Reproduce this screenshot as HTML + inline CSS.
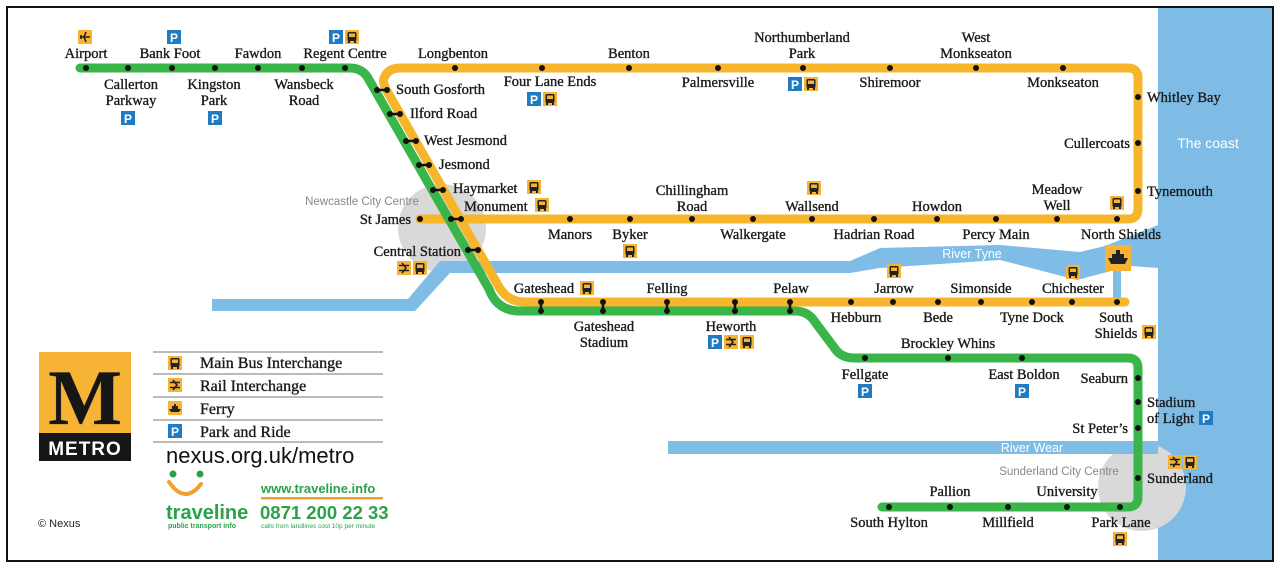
<!DOCTYPE html>
<html><head><meta charset="utf-8"><style>
html,body{margin:0;padding:0;background:#fff;}
svg{display:block;}
text{font-family:"Liberation Serif",serif;font-size:14.5px;fill:#1a1a1a;stroke:#1a1a1a;stroke-width:0.35px;}
.s{font-family:"Liberation Sans",sans-serif;}
.w{stroke:none;}
</style></head><body>
<svg width="1280" height="568" viewBox="0 0 1280 568" xmlns="http://www.w3.org/2000/svg">
<defs>
<g id="bus"><rect x="-7" y="-7" width="14" height="14" fill="#f6b334"/><rect x="-4.5" y="-5" width="9" height="9" rx="1.5" fill="#222"/><rect x="-3" y="-3.5" width="6" height="3.5" fill="#f6b334"/><rect x="-4" y="4" width="2" height="2" fill="#222"/><rect x="2" y="4" width="2" height="2" fill="#222"/></g>
<g id="rail"><rect x="-7" y="-7" width="14" height="14" fill="#f6b334"/><path d="M-5,-2.5H5M-5,2.5H5" stroke="#222" stroke-width="1.6"/><path d="M-2,-5L2,0L-2,5" stroke="#222" stroke-width="1.6" fill="none"/></g>
<g id="ferry"><rect x="-7" y="-7" width="14" height="14" fill="#f6b334"/><path d="M-6,1H6L4,4H-4Z M-3,1V-2H3V1Z M-1,-2V-4H1V-2Z" fill="#222"/></g>
<g id="plane"><rect x="-7" y="-7" width="14" height="14" fill="#f6b334"/><path d="M-5,0H5M1,-5L-1,0L1,5M-4,-2L-4,2" stroke="#222" stroke-width="1.6" fill="none"/></g>
</defs>
<rect x="7" y="7" width="1266" height="554" fill="#fff" stroke="#111" stroke-width="2"/>
<rect x="1158" y="8" width="114" height="552" fill="#7fbce5"/>
<text x="1208" y="148" text-anchor="middle" class="s w" style="fill:#fff;font-size:14px">The coast</text>
<circle cx="442" cy="228" r="44" fill="#d9d9d9"/>
<circle cx="1142" cy="487" r="44" fill="#d9d9d9"/>
<polygon points="212,299 408,299 440,261 850,261 880,248 1000,245 1080,252 1105,246 1158,225 1158,268 1130,266 1077,280 1000,260 880,268 850,273 450,273 415,311 212,311" fill="#80bde6"/>
<rect x="668" y="441" width="490" height="13" fill="#80bde6"/>
<rect x="1113" y="262" width="8" height="40" fill="#80bde6"/>
<text x="972" y="258" text-anchor="middle" class="s w" style="fill:#fff;font-size:12.5px">River Tyne</text>
<text x="1032" y="452" text-anchor="middle" class="s w" style="fill:#fff;font-size:12.5px">River Wear</text>
<text x="362" y="205" text-anchor="middle" class="s w" style="fill:#888;font-size:11.5px">Newcastle City Centre</text>
<text x="1059" y="475" text-anchor="middle" class="s w" style="fill:#888;font-size:11.5px">Sunderland City Centre</text>
<path d="M1125,302 L525,302 Q508,302 499,287 L387,91 Q382,82 384,78 Q388,68 400,68 L1128,68 Q1138,68 1138,78 L1138,209 Q1138,219 1128,219 L420,219" fill="none" stroke="#f7b52c" stroke-width="9" stroke-linecap="round" stroke-linejoin="round"/>
<path d="M80,68 L350,68 Q362,68 368,78 L489,289 Q497,311 520,311 L795,311 Q808,311 815,322 L836,350 Q842,358 855,358 L1128,358 Q1138,358 1138,368 L1138,497 Q1138,507 1128,507 L882,507" fill="none" stroke="#3ab54a" stroke-width="9" stroke-linecap="round" stroke-linejoin="round"/>
<g fill="#111">
<circle cx="86" cy="68" r="3"/><circle cx="128" cy="68" r="3"/><circle cx="172" cy="68" r="3"/><circle cx="215" cy="68" r="3"/><circle cx="258" cy="68" r="3"/><circle cx="302" cy="68" r="3"/><circle cx="345" cy="68" r="3"/>
<circle cx="455" cy="68" r="3"/><circle cx="542" cy="68" r="3"/><circle cx="629" cy="68" r="3"/><circle cx="718" cy="68" r="3"/><circle cx="803" cy="68" r="3"/><circle cx="890" cy="68" r="3"/><circle cx="976" cy="68" r="3"/><circle cx="1063" cy="68" r="3"/>
<circle cx="1138" cy="97" r="3"/><circle cx="1138" cy="143" r="3"/><circle cx="1138" cy="191" r="3"/>
<circle cx="1117" cy="219" r="3"/><circle cx="1057" cy="219" r="3"/><circle cx="996" cy="219" r="3"/><circle cx="937" cy="219" r="3"/><circle cx="874" cy="219" r="3"/><circle cx="812" cy="219" r="3"/><circle cx="753" cy="219" r="3"/><circle cx="692" cy="219" r="3"/><circle cx="630" cy="219" r="3"/><circle cx="570" cy="219" r="3"/><circle cx="420" cy="219" r="3"/>
<circle cx="851" cy="302" r="3"/><circle cx="893" cy="302" r="3"/><circle cx="938" cy="302" r="3"/><circle cx="981" cy="302" r="3"/><circle cx="1032" cy="302" r="3"/><circle cx="1072" cy="302" r="3"/><circle cx="1117" cy="302" r="3"/>
<circle cx="865" cy="358" r="3"/><circle cx="948" cy="358" r="3"/><circle cx="1022" cy="358" r="3"/>
<circle cx="1138" cy="378" r="3"/><circle cx="1138" cy="402" r="3"/><circle cx="1138" cy="428" r="3"/><circle cx="1138" cy="478" r="3"/>
<circle cx="1120" cy="507" r="3"/><circle cx="1067" cy="507" r="3"/><circle cx="1008" cy="507" r="3"/><circle cx="950" cy="507" r="3"/><circle cx="889" cy="507" r="3"/>
</g>
<g stroke="#111" stroke-width="2.5" fill="#111">
<line x1="377" y1="90" x2="387" y2="90"/><line x1="390" y1="114" x2="400" y2="114"/><line x1="406" y1="141" x2="416" y2="141"/><line x1="419" y1="165" x2="429" y2="165"/><line x1="433" y1="190" x2="443" y2="190"/><line x1="451" y1="219" x2="461" y2="219"/><line x1="468" y1="250" x2="478" y2="250"/>
<line x1="541" y1="302" x2="541" y2="311"/><line x1="603" y1="302" x2="603" y2="311"/><line x1="667" y1="302" x2="667" y2="311"/><line x1="735" y1="302" x2="735" y2="311"/><line x1="790" y1="302" x2="790" y2="311"/>
</g>
<g fill="#111">
<circle cx="377" cy="90" r="3"/><circle cx="387" cy="90" r="3"/><circle cx="390" cy="114" r="3"/><circle cx="400" cy="114" r="3"/><circle cx="406" cy="141" r="3"/><circle cx="416" cy="141" r="3"/><circle cx="419" cy="165" r="3"/><circle cx="429" cy="165" r="3"/><circle cx="433" cy="190" r="3"/><circle cx="443" cy="190" r="3"/><circle cx="451" cy="219" r="3"/><circle cx="461" cy="219" r="3"/><circle cx="468" cy="250" r="3"/><circle cx="478" cy="250" r="3"/>
<circle cx="541" cy="302" r="3"/><circle cx="541" cy="311" r="3"/><circle cx="603" cy="302" r="3"/><circle cx="603" cy="311" r="3"/><circle cx="667" cy="302" r="3"/><circle cx="667" cy="311" r="3"/><circle cx="735" cy="302" r="3"/><circle cx="735" cy="311" r="3"/><circle cx="790" cy="302" r="3"/><circle cx="790" cy="311" r="3"/>
</g>
<g text-anchor="middle">
<text x="86" y="58">Airport</text>
<text x="131" y="89">Callerton</text><text x="131" y="105">Parkway</text>
<text x="170" y="58">Bank Foot</text>
<text x="214" y="89">Kingston</text><text x="214" y="105">Park</text>
<text x="258" y="58">Fawdon</text>
<text x="304" y="89">Wansbeck</text><text x="304" y="105">Road</text>
<text x="345" y="58">Regent Centre</text>
<text x="453" y="58">Longbenton</text>
<text x="550" y="86">Four Lane Ends</text>
<text x="629" y="58">Benton</text>
<text x="718" y="87">Palmersville</text>
<text x="802" y="42">Northumberland</text><text x="802" y="58">Park</text>
<text x="890" y="87">Shiremoor</text>
<text x="976" y="42">West</text><text x="976" y="58">Monkseaton</text>
<text x="1063" y="87">Monkseaton</text>
<text x="1057" y="194">Meadow</text><text x="1057" y="210">Well</text>
<text x="996" y="239">Percy Main</text>
<text x="937" y="211">Howdon</text>
<text x="874" y="239">Hadrian Road</text>
<text x="812" y="211">Wallsend</text>
<text x="753" y="239">Walkergate</text>
<text x="692" y="195">Chillingham</text><text x="692" y="211">Road</text>
<text x="630" y="239">Byker</text>
<text x="570" y="239">Manors</text>
<text x="1121" y="239">North Shields</text>
<text x="604" y="331">Gateshead</text><text x="604" y="347">Stadium</text>
<text x="544" y="293">Gateshead</text>
<text x="667" y="293">Felling</text>
<text x="731" y="331">Heworth</text>
<text x="791" y="293">Pelaw</text>
<text x="856" y="322">Hebburn</text>
<text x="894" y="293">Jarrow</text>
<text x="938" y="322">Bede</text>
<text x="981" y="293">Simonside</text>
<text x="1032" y="322">Tyne Dock</text>
<text x="1073" y="293">Chichester</text>
<text x="1116" y="322">South</text><text x="1116" y="338">Shields</text>
<text x="865" y="379">Fellgate</text>
<text x="948" y="348">Brockley Whins</text>
<text x="1024" y="379">East Boldon</text>
<text x="1121" y="527">Park Lane</text>
<text x="1067" y="496">University</text>
<text x="1008" y="527">Millfield</text>
<text x="950" y="496">Pallion</text>
<text x="889" y="527">South Hylton</text>
</g>
<g text-anchor="start">
<text x="396" y="94">South Gosforth</text>
<text x="410" y="118">Ilford Road</text>
<text x="424" y="145">West Jesmond</text>
<text x="439" y="169">Jesmond</text>
<text x="453" y="193">Haymarket</text>
<text x="464" y="211">Monument</text>
<text x="1147" y="102">Whitley Bay</text>
<text x="1147" y="196">Tynemouth</text>
<text x="1147" y="407">Stadium</text><text x="1147" y="423">of Light</text>
<text x="1147" y="483">Sunderland</text>
</g>
<g text-anchor="end">
<text x="411" y="224">St James</text>
<text x="461" y="256">Central Station</text>
<text x="1130" y="148">Cullercoats</text>
<text x="1128" y="383">Seaburn</text>
<text x="1128" y="433">St Peter’s</text>
</g>
<use href="#plane" x="85" y="37"/>
<g>
<rect x="167" y="30" width="14" height="14" fill="#1f7cc2"/><rect x="121" y="111" width="14" height="14" fill="#1f7cc2"/><rect x="208" y="111" width="14" height="14" fill="#1f7cc2"/><rect x="329" y="30" width="14" height="14" fill="#1f7cc2"/><rect x="527" y="92" width="14" height="14" fill="#1f7cc2"/><rect x="788" y="77" width="14" height="14" fill="#1f7cc2"/><rect x="708" y="335" width="14" height="14" fill="#1f7cc2"/><rect x="858" y="384" width="14" height="14" fill="#1f7cc2"/><rect x="1015" y="384" width="14" height="14" fill="#1f7cc2"/><rect x="1199" y="411" width="14" height="14" fill="#1f7cc2"/><rect x="168" y="424" width="14" height="14" fill="#1f7cc2"/>
</g>
<g text-anchor="middle" style="font-family:'Liberation Sans',sans-serif;font-weight:bold;font-size:12px">
<text class="w" x="174" y="42" style="fill:#fff;font-family:'Liberation Sans';font-weight:bold;font-size:12px">P</text>
<text class="w" x="128" y="123" style="fill:#fff;font-family:'Liberation Sans';font-weight:bold;font-size:12px">P</text>
<text class="w" x="215" y="123" style="fill:#fff;font-family:'Liberation Sans';font-weight:bold;font-size:12px">P</text>
<text class="w" x="336" y="42" style="fill:#fff;font-family:'Liberation Sans';font-weight:bold;font-size:12px">P</text>
<text class="w" x="534" y="104" style="fill:#fff;font-family:'Liberation Sans';font-weight:bold;font-size:12px">P</text>
<text class="w" x="795" y="89" style="fill:#fff;font-family:'Liberation Sans';font-weight:bold;font-size:12px">P</text>
<text class="w" x="715" y="347" style="fill:#fff;font-family:'Liberation Sans';font-weight:bold;font-size:12px">P</text>
<text class="w" x="865" y="396" style="fill:#fff;font-family:'Liberation Sans';font-weight:bold;font-size:12px">P</text>
<text class="w" x="1022" y="396" style="fill:#fff;font-family:'Liberation Sans';font-weight:bold;font-size:12px">P</text>
<text class="w" x="1206" y="423" style="fill:#fff;font-family:'Liberation Sans';font-weight:bold;font-size:12px">P</text>
<text class="w" x="175" y="436" style="fill:#fff;font-family:'Liberation Sans';font-weight:bold;font-size:12px">P</text>
</g>
<use href="#bus" x="352" y="37"/><use href="#bus" x="550" y="99"/><use href="#bus" x="811" y="84"/>
<use href="#bus" x="534" y="187"/><use href="#bus" x="542" y="205"/><use href="#bus" x="814" y="188"/><use href="#bus" x="630" y="251"/><use href="#bus" x="1117" y="203"/>
<use href="#rail" x="404" y="268"/><use href="#bus" x="420" y="268"/>
<use href="#bus" x="587" y="288"/>
<use href="#rail" x="731" y="342"/><use href="#bus" x="747" y="342"/>
<use href="#bus" x="894" y="271"/><use href="#bus" x="1073" y="272"/><use href="#bus" x="1149" y="332"/>
<use href="#rail" x="1175" y="462"/><use href="#bus" x="1190" y="462"/><use href="#bus" x="1120" y="539"/>
<rect x="1105" y="245" width="26" height="26" fill="#f6b334"/><path d="M1108,258H1128L1125,264H1111Z M1112,258V254H1124V258Z M1116,254V250H1120V254Z" fill="#222"/>
<rect x="39" y="352" width="92" height="82" fill="#f6b334"/>
<rect x="39" y="433" width="92" height="28" fill="#161616"/>
<text x="85" y="424" text-anchor="middle" style="font-family:'Liberation Serif',serif;font-weight:bold;font-size:78px;fill:#161616">M</text>
<text class="w" x="85" y="455" text-anchor="middle" style="font-family:'Liberation Sans',sans-serif;font-weight:bold;font-size:19px;fill:#fff;letter-spacing:1px">METRO</text>
<g stroke="#777" stroke-width="1"><line x1="153" y1="352" x2="383" y2="352"/><line x1="153" y1="374" x2="383" y2="374"/><line x1="153" y1="397" x2="383" y2="397"/><line x1="153" y1="420" x2="383" y2="420"/><line x1="153" y1="442" x2="383" y2="442"/></g>
<use href="#bus" x="175" y="363"/><use href="#rail" x="175" y="385"/><use href="#ferry" x="175" y="408"/>
<text x="200" y="368" style="font-size:16px">Main Bus Interchange</text><text x="200" y="391" style="font-size:16px">Rail Interchange</text><text x="200" y="414" style="font-size:16px">Ferry</text><text x="200" y="437" style="font-size:16px">Park and Ride</text>
<text class="w" x="166" y="463" style="font-family:'Liberation Sans',sans-serif;font-size:22px;fill:#111">nexus.org.uk/metro</text>
<circle cx="173" cy="474" r="3.5" fill="#2aa24a"/><circle cx="200" cy="474" r="3.5" fill="#2aa24a"/>
<path d="M169,482 Q185,505 201,484" fill="none" stroke="#f0a030" stroke-width="4" stroke-linecap="round"/>
<text class="w" x="166" y="519" style="font-family:'Liberation Sans',sans-serif;font-weight:bold;font-size:20px;fill:#2aa24a">traveline</text>
<text class="w" x="168" y="528" style="font-family:'Liberation Sans',sans-serif;font-weight:bold;font-size:7px;fill:#2aa24a">public transport info</text>
<text class="w" x="261" y="493" style="font-family:'Liberation Sans',sans-serif;font-weight:bold;font-size:13px;fill:#2aa24a">www.traveline.info</text>
<rect x="261" y="497" width="122" height="2.5" fill="#f0a030"/>
<text class="w" x="260" y="519" style="font-family:'Liberation Sans',sans-serif;font-weight:bold;font-size:18.5px;fill:#2aa24a">0871 200 22 33</text>
<text class="w" x="261" y="528" style="font-family:'Liberation Sans',sans-serif;font-size:6.5px;fill:#2aa24a">calls from landlines cost 10p per minute</text>
<text class="w" x="38" y="527" style="font-family:'Liberation Sans',sans-serif;font-size:11px;fill:#222">© Nexus</text>
</svg>
</body></html>
